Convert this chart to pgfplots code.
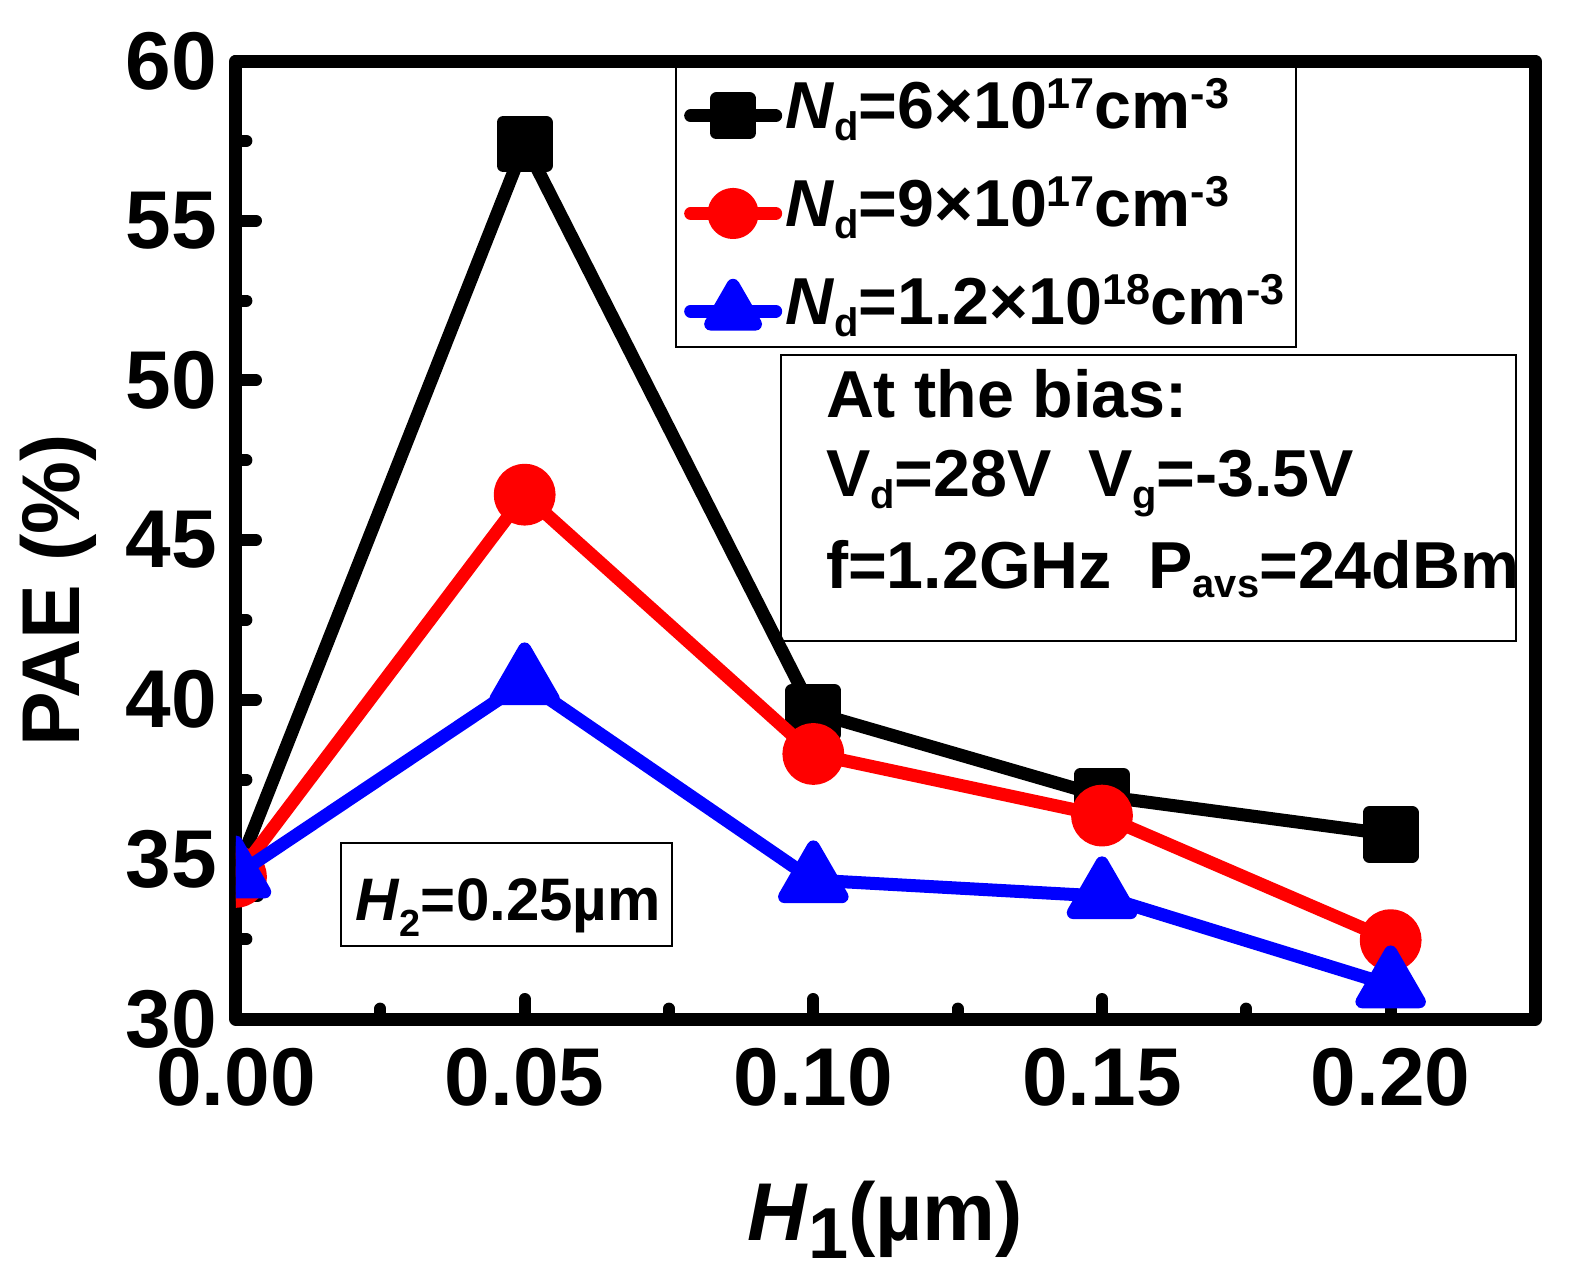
\documentclass[border=0pt]{standalone}
\usepackage{fontspec}
\setmainfont{Liberation Sans}
\usepackage{graphicx}
\usepackage{pgfplots}
\pgfplotsset{compat=1.18}

\newcommand{\dn}[2][0.18em]{\raisebox{-#1}{\scalebox{0.6}{#2}}}
\newcommand{\up}[1]{\raisebox{0.3em}{\scalebox{0.65}{#1}}}

\begin{document}
\begin{tikzpicture}
\begin{axis}[
  name=ax, at={(0,0)}, anchor=south west,
  scale only axis, width=324.75pt, height=239.5pt,
  xmin=0, xmax=0.225, ymin=30, ymax=60,
  xtick={0,0.05,0.1,0.15,0.2}, ytick={30,35,40,45,50,55,60},
  minor tick num=1,
  tick align=inside, xtick pos=left, ytick pos=left,
  major tick length=5pt, minor tick length=2.6pt,
  tick style={black, line width=3pt, line cap=round},
  axis line style={line width=3.25pt, line join=round},
  /pgf/number format/assume math mode=true,
  xticklabel style={/pgf/number format/.cd, fixed, fixed zerofill, precision=2, /tikz/.cd, yshift=-3.75pt},
  yticklabel style={/pgf/number format/.cd, fixed, precision=0, /tikz/.cd, xshift=-1.25pt},
  ticklabel style={font=\fontsize{20.5}{24}\selectfont\bfseries},
  label style={font=\fontsize{20.5}{24}\selectfont\bfseries},
  xlabel={\textit{H}\raisebox{-0.22em}{\scalebox{0.88}{1}}(µm)},
  ylabel={PAE (\%)},
  xlabel style={at={(axis description cs:0.4998,-0.2307)}, anchor=base},
  ylabel style={at={(axis description cs:-0.1201,0.4473)}, anchor=base},
  clip marker paths=true,
  legend style={at={(axis description cs:0.3381,1)}, anchor=north west,
    draw=black, line width=0.5pt, fill=none,
    font=\fontsize{16.6}{19}\selectfont\bfseries,
    inner xsep=2pt, inner ysep=3.2pt, row sep=8.4pt,
    nodes={inner xsep=0.75pt, inner ysep=1pt}},
  legend cell align=left,
  legend image code/.code={\draw[yshift=-2.25pt, mark repeat=2, mark phase=2, line cap=round,
    every mark/.append style={scale=0.78}]
    plot coordinates {(0pt,0pt) (10.6pt,0pt) (21.25pt,0pt)};},
]
\draw[line width=0.5pt] (axis description cs:0.4197,0.6931) rectangle (axis description cs:0.9850,0.3946);
\node[anchor=base west, font=\fontsize{16.6}{19}\selectfont\bfseries, inner sep=0pt] at (axis description cs:0.4536,0.6284) {At the bias:};
\node[anchor=base west, font=\fontsize{16.6}{19}\selectfont\bfseries, inner sep=0pt] at (axis description cs:0.4536,0.5449) {V\dn[0.17em]{d}=28V\hspace{0.55em}V\dn{g}=-3.5V};
\node[anchor=base west, font=\fontsize{16.6}{19}\selectfont\bfseries, inner sep=0pt] at (axis description cs:0.4536,0.4499) {f=1.2GHz\hspace{0.55em}P\dn[0.14em]{avs}=24dBm};
\draw[line width=0.5pt] (axis description cs:0.0809,0.1837) rectangle (axis description cs:0.3358,0.0762);
\node[anchor=base, font=\fontsize{15}{18}\selectfont\bfseries, inner sep=0pt] at (axis description cs:0.2095,0.1033) {\textit{H}\raisebox{-0.28em}{\scalebox{0.63}{2}}=0.25µm};

\addplot[black, line width=3.25pt, line join=round, mark=square*, mark size=5.4pt,
  mark options={draw=none, fill=black}]
  coordinates {(0,34.55)(0.05,57.4)(0.1,39.6)(0.15,36.98)(0.2,35.78)};
\addlegendentry{\textit{N}\dn{d}=6×10\up{17}cm\up{-3}}
\addplot[red, line width=3.25pt, line join=round, mark=*, mark size=6.1pt,
  mark options={draw=none, fill=red}]
  coordinates {(0,34.45)(0.05,46.42)(0.1,38.3)(0.15,36.37)(0.2,32.47)};
\addlegendentry{\textit{N}\dn{d}=9×10\up{17}cm\up{-3}}
\addplot[blue, line width=3.25pt, line join=round, mark=triangle*, mark size=8.3pt,
  mark options={draw=none, fill=blue}]
  coordinates {(0,34.5)(0.05,40.55)(0.1,34.35)(0.15,33.85)(0.2,31.06)};
\addlegendentry{\textit{N}\dn{d}=1.2×10\up{18}cm\up{-3}}
\end{axis}
\pgfresetboundingbox
\path[use as bounding box] ([xshift=-59pt,yshift=-64.25pt]ax.south west) rectangle ([xshift=9.75pt,yshift=15.25pt]ax.north east);
\end{tikzpicture}
\end{document}
